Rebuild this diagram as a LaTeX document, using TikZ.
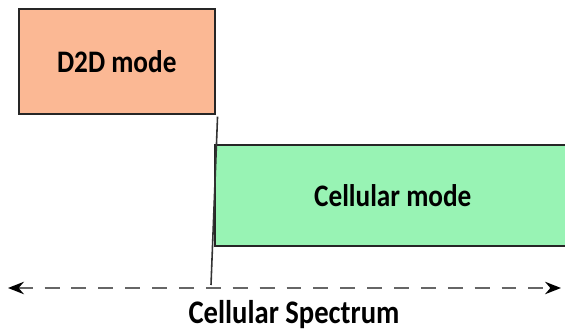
\documentclass[tikz,border=0pt]{standalone}
\usepackage{fontspec}
\setmainfont{Carlito}
\usepackage{graphicx}
\usepackage{tikz}
\usetikzlibrary{positioning,calc,arrows.meta}
\definecolor{dtodfill}{RGB}{251,184,148}
\definecolor{cellfill}{RGB}{152,243,180}
\newcommand{\tallish}[1]{\scalebox{1}[1.15]{#1}}

\begin{document}
\begin{tikzpicture}[x=0.02cm, y=-0.02cm,
    modebox/.style={draw=black!85, line width=0.9pt, inner sep=0pt, anchor=north west,
        font=\bfseries\fontsize{15.5}{18}\selectfont},
    spectrum/.style={line width=1.4pt, black!60, dash pattern=on 8.5pt off 6.8pt,
        {Stealth[length=9pt,width=7pt,black]}-{Stealth[length=9pt,width=7pt,black]}}]
    \useasboundingbox (0,0) rectangle (565,334);

    % Modes
    \node [modebox, fill=dtodfill, minimum width=3.92cm, minimum height=2.1cm] (d2d) at (18,8) {\tallish{D2D mode}};
    \node [modebox, fill=cellfill, minimum width=7.12cm, minimum height=2.02cm] (cell) at (214,144) {\tallish{Cellular mode}};

    % Spectrum
    \coordinate (lend) at (8,288);
    \coordinate (rend) at (561,288);
    \coordinate (split) at (211,285);
    \draw [line width=0.9pt, black!80] ($(d2d.south east)+(2,2)$) -- (split);
    \draw [spectrum] (lend) -- (rend);
    \node [font=\bfseries\fontsize{16.3}{19}\selectfont] (spec) at (294,315) {\tallish{Cellular Spectrum}};
\end{tikzpicture}
\end{document}
